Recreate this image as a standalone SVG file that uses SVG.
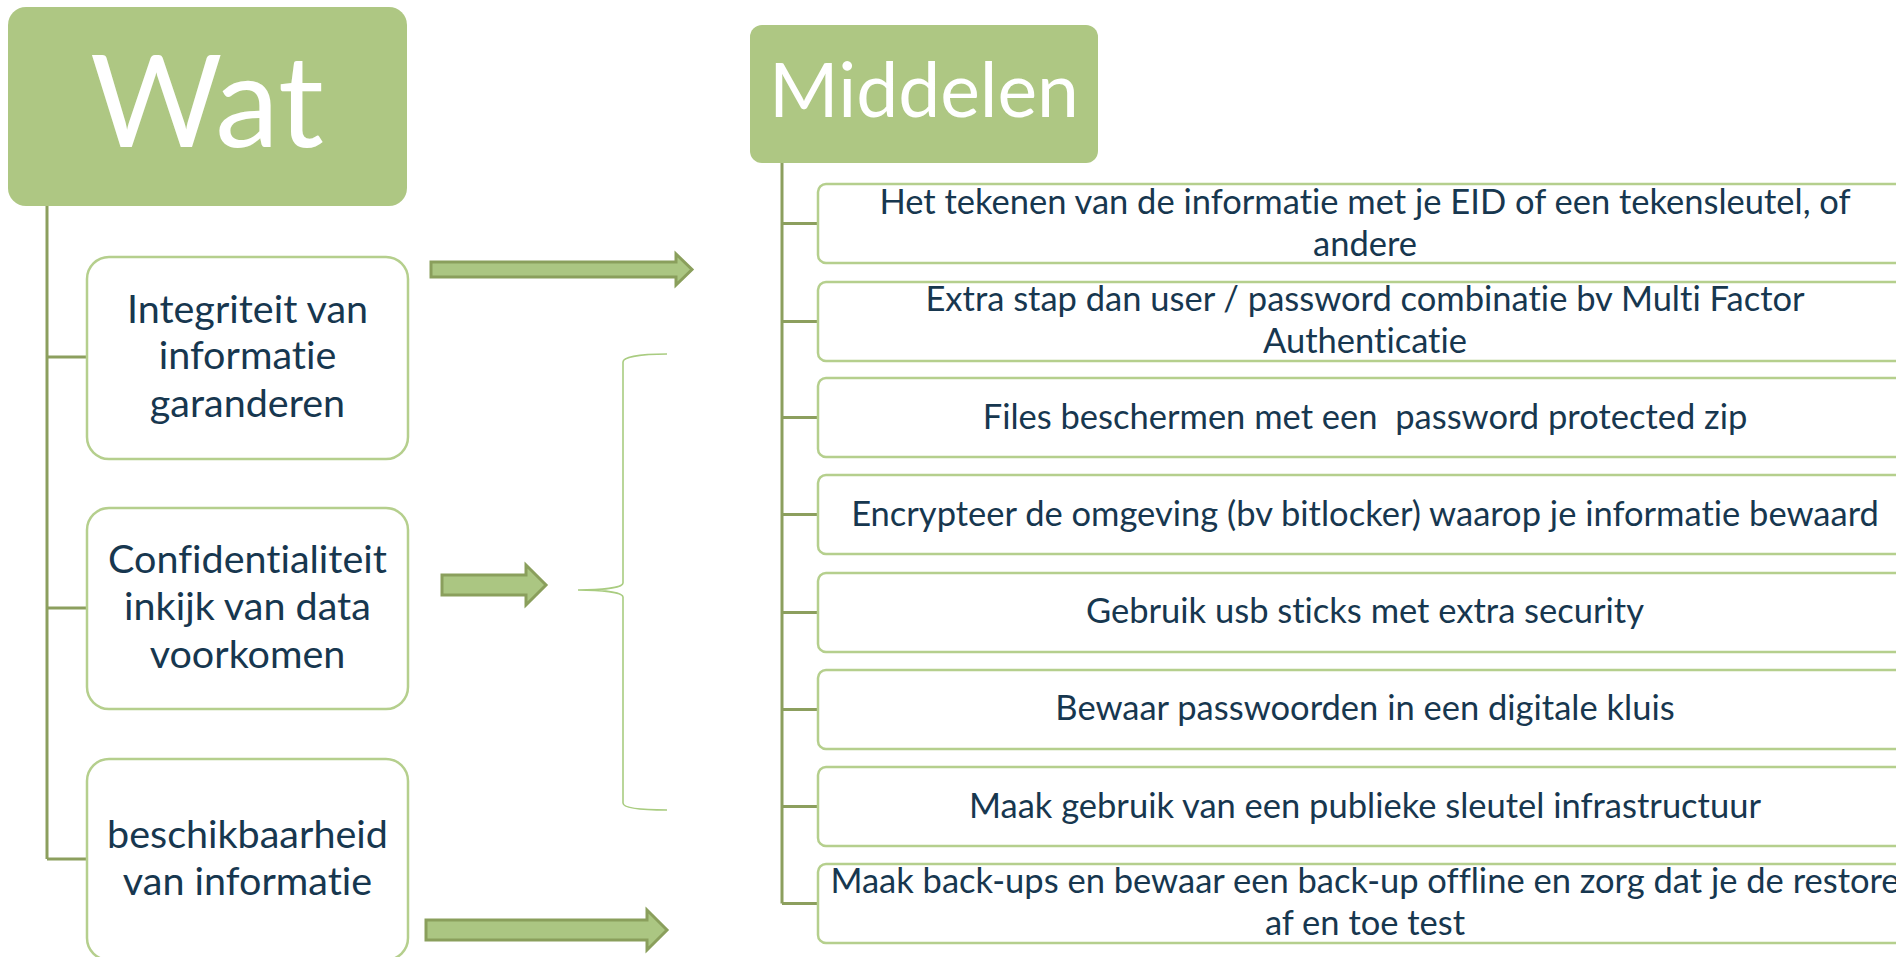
<svg xmlns="http://www.w3.org/2000/svg" width="1896" height="957" viewBox="0 0 1896 957">
<style>
text{font-family:Lato,"Liberation Sans",sans-serif;text-anchor:middle;font-variant-ligatures:none}
.hdr{fill:#AEC783}
.hdrt{fill:#FFFFFF}
.node{fill:#FFFFFF;stroke:#B5CF8D;stroke-width:2.5}
.nt{fill:#17374F;font-size:39.5px}
.it{fill:#17374F;font-size:34.5px}
.tree{fill:none;stroke:#8C9F5E;stroke-width:3}
.arrow{fill:#ABC682;stroke:#8A9F5C;stroke-width:3}
.brace{fill:none;stroke:#A9CC80;stroke-width:1.6}
</style>
<rect width="1896" height="957" fill="#FFFFFF"/>
<g id="connectors">
<path class="tree" d="M47,206 V859 M47,357 H87 M47,608 H87 M47,859 H87"/>
<path class="tree" d="M782,163 V903.5 M782,223.5 H818 M782,321.5 H818 M782,417.5 H818 M782,514.5 H818 M782,612.5 H818 M782,709.5 H818 M782,806.5 H818 M782,903.5 H818"/>
<polygon class="arrow" points="431,262 676,262 676,254 692,269.5 676,285 676,277 431,277"/>
<polygon class="arrow" points="442,575 526,575 526,565 546,585 526,605 526,595 442,595"/>
<polygon class="arrow" points="426,920 647,920 647,910 667,930 647,950 647,940 426,940"/>
<path class="brace" d="M667,354 C640,354 623,357 623,362 V583 C623,588 600,590 578,590 C600,590 623,592 623,597 V803 C623,808 640,810 667,810"/>
</g>
<g id="wat">
<rect class="hdr" x="8" y="7" width="399" height="199" rx="18"/>
<text class="hdrt" x="207" y="147" font-size="128">Wat</text>
</g>
<g id="integriteit">
<rect class="node" x="87" y="257" width="321" height="202" rx="22"/>
<text class="nt" x="247.5" y="323">Integriteit van</text>
<text class="nt" x="247.5" y="369">informatie</text>
<text class="nt" x="247.5" y="417">garanderen</text>
</g>
<g id="confidentialiteit">
<rect class="node" x="87" y="508" width="321" height="201" rx="22"/>
<text class="nt" x="247.5" y="573">Confidentialiteit</text>
<text class="nt" x="247.5" y="620">inkijk van data</text>
<text class="nt" x="247.5" y="668">voorkomen</text>
</g>
<g id="beschikbaarheid">
<rect class="node" x="87" y="759" width="321" height="201" rx="22"/>
<text class="nt" x="247.5" y="848">beschikbaarheid</text>
<text class="nt" x="247.5" y="895">van informatie</text>
</g>
<g id="middelen">
<rect class="hdr" x="750" y="25" width="348" height="138" rx="12"/>
<text class="hdrt" x="924" y="117" font-size="75">Middelen</text>
</g>
<g id="item1">
<rect class="node" x="818" y="184" width="1094" height="79" rx="8"/>
<text class="it" x="1365" y="214">Het tekenen van de informatie met je EID of een tekensleutel, of</text>
<text class="it" x="1365" y="256">andere</text>
</g>
<g id="item2">
<rect class="node" x="818" y="282" width="1094" height="79" rx="8"/>
<text class="it" x="1365" y="311">Extra stap dan user / password combinatie bv Multi Factor</text>
<text class="it" x="1365" y="353">Authenticatie</text>
</g>
<g id="item3">
<rect class="node" x="818" y="378" width="1094" height="79" rx="8"/>
<text class="it" x="1365" y="429" xml:space="preserve">Files beschermen met een  password protected zip</text>
</g>
<g id="item4">
<rect class="node" x="818" y="475" width="1094" height="79" rx="8"/>
<text class="it" x="1365" y="526">Encrypteer de omgeving (bv bitlocker) waarop je informatie bewaard</text>
</g>
<g id="item5">
<rect class="node" x="818" y="573" width="1094" height="79" rx="8"/>
<text class="it" x="1365" y="623">Gebruik usb sticks met extra security</text>
</g>
<g id="item6">
<rect class="node" x="818" y="670" width="1094" height="79" rx="8"/>
<text class="it" x="1365" y="720">Bewaar passwoorden in een digitale kluis</text>
</g>
<g id="item7">
<rect class="node" x="818" y="767" width="1094" height="79" rx="8"/>
<text class="it" x="1365" y="818">Maak gebruik van een publieke sleutel infrastructuur</text>
</g>
<g id="item8">
<rect class="node" x="818" y="864" width="1094" height="79" rx="8"/>
<text class="it" x="1365" y="893">Maak back-ups en bewaar een back-up offline en zorg dat je de restore</text>
<text class="it" x="1365" y="935">af en toe test</text>
</g>
</svg>
